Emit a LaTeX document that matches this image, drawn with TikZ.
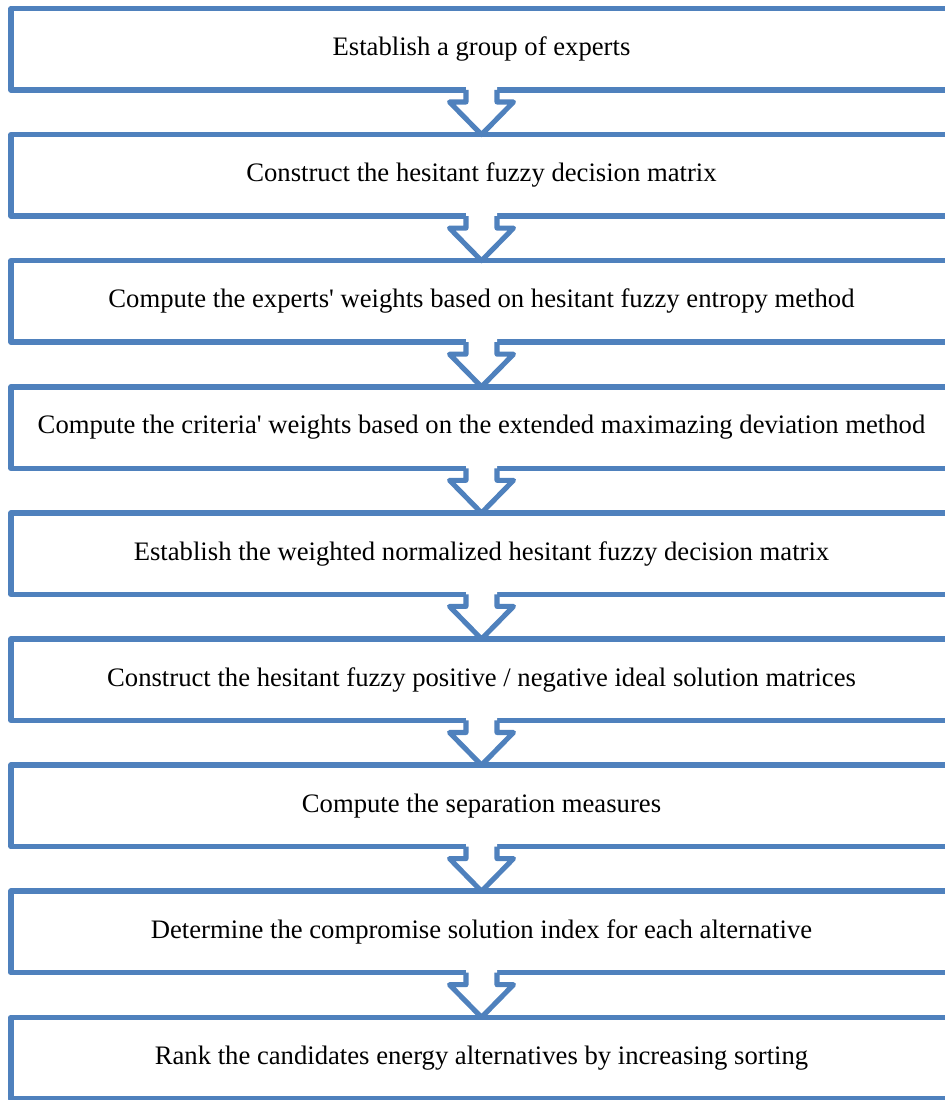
\documentclass[tikz,border=0pt]{standalone}
\usepackage{fontspec}
\newfontfamily\tnr{Liberation Serif}
\usetikzlibrary{calc}
\definecolor{officeblue}{RGB}{79,129,189}
\tikzset{
  stepbox/.style={draw=officeblue, line width=4.1pt, rectangle, minimum width=705.75pt, minimum height=61.1pt,
    inner sep=0pt, outer sep=0pt, line join=round, font=\tnr\fontsize{20}{24}\selectfont, text=black},
  arrline/.style={draw=officeblue, line width=3.8pt, line join=round},
}
\begin{document}
\begin{tikzpicture}[x=0.75pt, y=-0.75pt]
\clip (0,0) rectangle (945,1100);
\fill[white] (0,0) rectangle (945,1100);
\foreach \i/\t in {
 1/{Establish a group of experts},
 2/{Construct the hesitant fuzzy decision matrix},
 3/{Compute the experts\textquotesingle\ weights based on hesitant fuzzy entropy method},
 4/{Compute the criteria\textquotesingle\ weights based on the extended maximazing deviation method},
 5/{Establish the weighted normalized hesitant fuzzy decision matrix},
 6/{Construct the hesitant fuzzy positive / negative ideal solution matrices},
 7/{Compute the separation measures},
 8/{Determine the compromise solution index for each alternative},
 9/{Rank the candidates energy alternatives by increasing sorting}}
{
  \node[stepbox] (b\i) at (481.5, {8.5 + 126.1*(\i-1) + 40.75}) {\t};
}
\foreach \a/\b in {b1/b2,b2/b3,b3/b4,b4/b5,b5/b6,b6/b7,b7/b8,b8/b9}{
  \fill[white] ($(\a.south)+(-15.5,-3)$) -- ($(\a.south)+(-15.5,12)$) -- ($(\a.south)+(-32,12)$)
     -- (\b.north) -- ($(\a.south)+(32,12)$) -- ($(\a.south)+(15.5,12)$) -- ($(\a.south)+(15.5,-3)$) -- cycle;
  \draw[arrline] ($(\a.south)+(-15.5,0)$) -- ($(\a.south)+(-15.5,12)$) -- ($(\a.south)+(-32,12)$)
     -- (\b.north) -- ($(\a.south)+(32,12)$) -- ($(\a.south)+(15.5,12)$) -- ($(\a.south)+(15.5,0)$);
}
\end{tikzpicture}
\end{document}
